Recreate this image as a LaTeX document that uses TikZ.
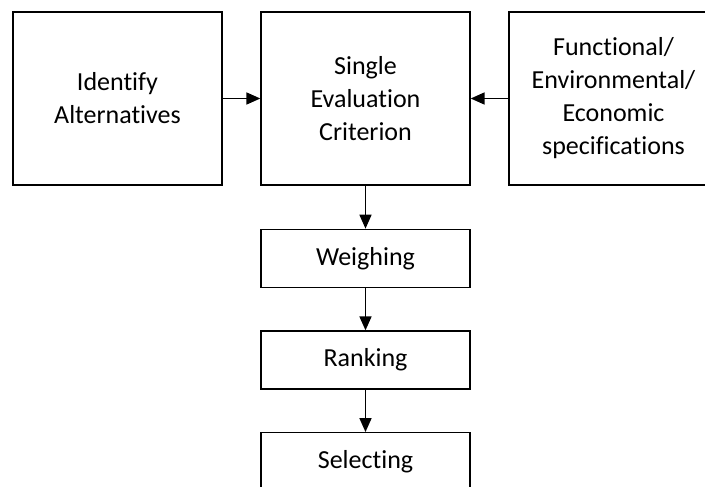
\documentclass[tikz,border=0pt]{standalone}
\usepackage{fontspec}
\setmainfont[Ligatures=NoCommon]{Carlito}
\usetikzlibrary{arrows.meta}
\begin{document}
\begin{tikzpicture}[x=1pt,y=-1pt,
  box/.style={draw=black,line width=1.3pt,fill=white,align=center,inner sep=0pt,
    font=\fontsize{26}{33}\selectfont},
  bigbox/.style={box,minimum width=209pt,minimum height=173pt},
  stepbox/.style={box,minimum width=209pt,minimum height=58pt},
  flow/.style={line width=1.7pt,-{Triangle[length=14pt,width=12pt]}}]
\clip (0,0) rectangle (705,487);
\fill[white] (0,0) rectangle (705,487);
% top row
\node[bigbox] (alt)  at (117.5,98.5) {Identify\\Alternatives};
\node[bigbox] (crit) at (365.5,98.5) {Single\\Evaluation\\Criterion};
\node[bigbox] (spec) at (613.5,98.5) {Functional/\\Environmental/\\Economic\\specifications};
% process chain
\node[stepbox] (weigh) at (365.5,258.3) {Weighing};
\node[stepbox] (rank)  at (365.5,360)   {Ranking};
\node[stepbox] (sel)   at (365.5,461.7) {Selecting};
% connectors
\draw[flow] (alt) -- (crit);
\draw[flow] (spec) -- (crit);
\draw[flow] (crit) -- (weigh);
\draw[flow] (weigh) -- (rank);
\draw[flow] (rank) -- (sel);
\end{tikzpicture}
\end{document}
